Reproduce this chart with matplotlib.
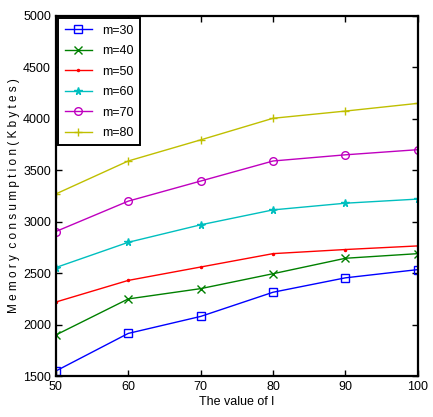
import matplotlib

matplotlib.use("Agg")
import matplotlib.pyplot as plt

plt.rcParams["font.family"] = ["Liberation Sans", "DejaVu Sans"]

l_values = [50, 60, 70, 80, 90, 100]
m30 = [1550, 1915, 2080, 2315, 2455, 2535]
m40 = [1900, 2250, 2350, 2495, 2645, 2690]
m50 = [2220, 2430, 2560, 2690, 2730, 2765]
m60 = [2555, 2800, 2970, 3115, 3180, 3220]
m70 = [2905, 3200, 3395, 3590, 3650, 3700]
m80 = [3270, 3590, 3795, 4005, 4075, 4150]

series = [
    ("m=30", m30, "#0000ff", "s"),
    ("m=40", m40, "#008000", "x"),
    ("m=50", m50, "#ff0000", "."),
    ("m=60", m60, "#00bfbf", "*"),
    ("m=70", m70, "#bf00bf", "o"),
    ("m=80", m80, "#bfbf00", "+"),
]

fig = plt.figure(figsize=(4.33, 4.17), dpi=100)
ax = fig.add_axes([0.129, 0.098, 0.836, 0.864])

for label, vals, col, mk in series:
    ax.plot(l_values, vals, color=col, marker=mk, markersize=5.5 if mk != "." else 3,
            markerfacecolor="none" if mk in ("s", "o") else col,
            linewidth=1.0, label=label)

ax.set_xlim(50, 100)
ax.set_ylim(1500, 5000)
ax.set_xticks(l_values)
ax.set_yticks(range(1500, 5001, 500))
ax.tick_params(direction="in", top=True, right=True, labelsize=9, length=4, width=1)
for s in ax.spines.values():
    s.set_linewidth(1.6)

ax.set_xlabel("The value of l", fontsize=9, labelpad=2)
ax.set_ylabel("M e m o r y  c o n s u m p t i o n ( K b y t e s )", fontsize=8.5, labelpad=2)

leg = ax.legend(loc="upper left", fontsize=9, fancybox=False, edgecolor="black",
                framealpha=1, borderaxespad=0.2, handlelength=2.2, labelspacing=0.68,
                borderpad=0.5)
leg.get_frame().set_linewidth(1.4)

fig.savefig("out.png")
